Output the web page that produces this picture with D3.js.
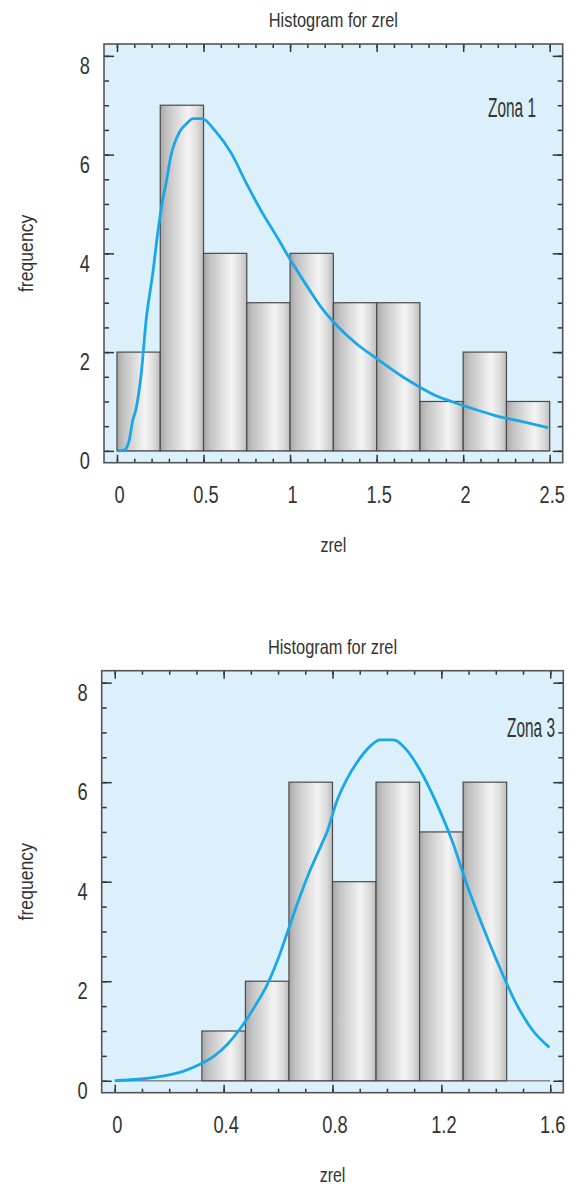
<!DOCTYPE html>
<html lang="en">
<head>
    <meta charset="UTF-8">
    <title>Histogram for zrel</title>
    <script src="https://cdn.jsdelivr.net/npm/d3@7"></script>
    <style>
        body { margin: 0; background: #fff; }
        text { font-family: "Liberation Sans", Arial, sans-serif; fill: #333; }
    </style>
</head>
<body>
<script type="application/javascript">
    // Zona 1: bins 0.25 wide
    const edges1 = [0, 0.25, 0.5, 0.75, 1, 1.25, 1.5, 1.75, 2, 2.25, 2.5];
    const counts1 = [2, 7, 4, 3, 4, 3, 3, 1, 2, 1];
    const xTicks1 = [0, 0.5, 1, 1.5, 2, 2.5];
    // density curve, [zrel, frequency]
    const curve1 = [
        [0.005, 0], [0.04, 0.01], [0.07, 0.2], [0.09, 0.6], [0.11, 0.85], [0.14, 1.56],
        [0.17, 2.7], [0.19, 3.2], [0.205, 3.55], [0.235, 4.4], [0.265, 5.1], [0.285, 5.45],
        [0.31, 5.95], [0.36, 6.45], [0.40, 6.62], [0.44, 6.73], [0.49, 6.73], [0.57, 6.47],
        [0.66, 6.03], [0.75, 5.4], [0.83, 4.88], [0.93, 4.3], [1.0, 3.88], [1.11, 3.27],
        [1.19, 2.86], [1.27, 2.54], [1.38, 2.18], [1.5, 1.87], [1.65, 1.5], [1.75, 1.29],
        [1.84, 1.12], [1.94, 0.99], [2.05, 0.86], [2.19, 0.71], [2.33, 0.6], [2.49, 0.47]
    ];

    // Zona 3: bins 0.16 wide
    const edges2 = [0, 0.16, 0.32, 0.48, 0.64, 0.80, 0.96, 1.12, 1.28, 1.44, 1.60];
    const counts2 = [0, 0, 1, 2, 6, 4, 6, 5, 6, 0];
    const xTicks2 = [0, 0.4, 0.8, 1.2, 1.6];
    const curve2 = [
        [0, 0], [0.085, 0.03], [0.147, 0.07], [0.208, 0.13], [0.256, 0.2], [0.317, 0.34],
        [0.366, 0.5], [0.415, 0.74], [0.464, 1.07], [0.513, 1.48], [0.562, 1.95], [0.598, 2.42],
        [0.641, 3.09], [0.671, 3.56], [0.708, 4.1], [0.76, 4.75], [0.78, 5.0], [0.816, 5.62],
        [0.852, 6.05], [0.889, 6.39], [0.938, 6.72], [0.974, 6.85], [1.023, 6.85], [1.072, 6.65],
        [1.121, 6.25], [1.182, 5.58], [1.243, 4.77], [1.292, 3.97], [1.353, 3.09], [1.414, 2.28],
        [1.475, 1.55], [1.536, 1.01], [1.597, 0.67]
    ];

    const yTicks = [0, 2, 4, 6, 8];
    const title = 'Histogram for zrel';

    const W = 569, H = 1187;

    let svg = d3.select('body')
        .append('svg')
        .attr('width', W)
        .attr('height', H);

    // gradient for the cylinder-like bars
    let grad = svg.append('defs').append('linearGradient')
        .attr('id', 'barGrad')
        .attr('x1', '0%').attr('x2', '100%').attr('y1', '0%').attr('y2', '0%');
    [[0, '#a8a8a8'], [0.15, '#c2c2c2'], [0.65, '#f4f4f4'], [0.85, '#dcdcdc'], [1, '#bdbdbd']]
        .forEach(s => grad.append('stop').attr('offset', s[0]).attr('stop-color', s[1]));

    // the original font is a narrow one, so squeeze text horizontally
    function label(g, str, x, y, size, sx, anchor, rot) {
        return g.append('text')
            .attr('transform', `translate(${x},${y})` + (rot ? ` rotate(${rot})` : '') + ` scale(${sx},1)`)
            .attr('text-anchor', anchor)
            .attr('font-size', size)
            .text(str);
    }

    function drawPanel(p) {
        let x = d3.scaleLinear().domain(p.xDomain).range([p.left, p.right]);
        let y = d3.scaleLinear().domain([-0.24, 8.24]).range([p.bottom, p.top]);

        let g = svg.append('g');

        // background
        g.append('rect')
            .attr('x', p.left).attr('y', p.top)
            .attr('width', p.right - p.left).attr('height', p.bottom - p.top)
            .attr('fill', '#dbf0fb');

        // base line under empty bins
        g.append('line')
            .attr('x1', x(p.edges[0])).attr('x2', x(p.edges[p.edges.length - 1]))
            .attr('y1', y(0)).attr('y2', y(0))
            .attr('stroke', '#888').attr('stroke-width', 1.5);

        let bins = p.counts.map((c, i) => ({x0: p.edges[i], x1: p.edges[i + 1], n: c}))
            .filter(d => d.n > 0);

        g.selectAll('rect.bar')
            .data(bins)
            .enter()
            .append('rect')
            .attr('class', 'bar')
            .attr('x', d => x(d.x0))
            .attr('y', d => y(d.n))
            .attr('width', d => x(d.x1) - x(d.x0))
            .attr('height', d => y(0) - y(d.n))
            .attr('fill', 'url(#barGrad)')
            .attr('stroke', '#4a4a4a')
            .attr('stroke-width', 1.2);

        // density curve
        let line = d3.line()
            .x(d => x(d[0]))
            .y(d => y(d[1]))
            .curve(d3.curveMonotoneX);
        g.append('path')
            .datum(p.curve)
            .attr('d', line)
            .attr('fill', 'none')
            .attr('stroke', '#18a8e8')
            .attr('stroke-width', 2.8)
            .attr('stroke-linejoin', 'round');

        // ticks, all pointing inwards
        const tickStyle = sel => {
            sel.select('.domain').remove();
            sel.selectAll('line').attr('stroke', '#333').attr('stroke-width', 1.5);
        };
        let xMinor = d3.range(Math.round(p.edges[p.edges.length - 1] / 0.1) + 1).map(i => i * 0.1);
        let yMinor = d3.range(17).map(i => i * 0.5);

        g.append('g').attr('transform', `translate(0,${p.bottom})`)
            .call(d3.axisBottom(x).tickValues(xMinor).tickSize(-4).tickFormat('')).call(tickStyle);
        g.append('g').attr('transform', `translate(0,${p.top})`)
            .call(d3.axisTop(x).tickValues(xMinor).tickSize(-4).tickFormat('')).call(tickStyle);
        g.append('g').attr('transform', `translate(0,${p.top})`)
            .call(d3.axisTop(x).tickValues(p.xTicks).tickSize(-8).tickFormat('')).call(tickStyle);

        let xAx = g.append('g').attr('transform', `translate(0,${p.bottom})`)
            .call(d3.axisBottom(x).tickValues(p.xTicks).tickSize(-8).tickPadding(23).tickFormat(d3.format('')))
            .call(tickStyle);
        xAx.selectAll('text')
            .attr('font-size', 24)
            .attr('x', 2 / 0.76)
            .attr('transform', 'scale(0.76,1)')
            .attr('font-family', null).attr('fill', null);

        g.append('g').attr('transform', `translate(${p.left},0)`)
            .call(d3.axisLeft(y).tickValues(yMinor).tickSize(-5).tickFormat('')).call(tickStyle);
        g.append('g').attr('transform', `translate(${p.right},0)`)
            .call(d3.axisRight(y).tickValues(yMinor).tickSize(-5).tickFormat('')).call(tickStyle);
        g.append('g').attr('transform', `translate(${p.right},0)`)
            .call(d3.axisRight(y).tickValues(yTicks).tickSize(-10).tickFormat('')).call(tickStyle);

        let yAx = g.append('g').attr('transform', `translate(${p.left},0)`)
            .call(d3.axisLeft(y).tickValues(yTicks).tickSize(-10).tickPadding(14))
            .call(tickStyle);
        yAx.selectAll('text')
            .attr('font-size', 24).attr('dy', '0.74em')
            .attr('x', -14 / 0.76)
            .attr('transform', 'scale(0.76,1)')
            .attr('font-family', null).attr('fill', null);

        // frame
        g.append('rect')
            .attr('x', p.left).attr('y', p.top)
            .attr('width', p.right - p.left).attr('height', p.bottom - p.top)
            .attr('fill', 'none')
            .attr('stroke', '#555')
            .attr('stroke-width', 1.6);

        let cx = (p.left + p.right) / 2;
        label(g, title, cx, p.top - 17, 20, 0.82, 'middle');
        label(g, 'zrel', cx, p.bottom + 89, 21, 0.76, 'middle');
        label(g, 'frequency', 33, (p.top + p.bottom) / 2, 21, 0.84, 'middle', -90);
        label(g, p.zona, p.zonaX, p.top + p.zonaDy, 28, 0.55, 'end');
    }

    drawPanel({
        left: 104, right: 562.7, top: 44, bottom: 462.7,
        xDomain: [-0.075, 2.575],
        edges: edges1, counts: counts1, curve: curve1, xTicks: xTicks1,
        zona: 'Zona 1', zonaX: 536, zonaDy: 73
    });

    drawPanel({
        left: 101.7, right: 563.3, top: 670.7, bottom: 1092.7,
        xDomain: [-0.048, 1.648],
        edges: edges2, counts: counts2, curve: curve2, xTicks: xTicks2,
        zona: 'Zona 3', zonaX: 555, zonaDy: 66
    });
</script>
</body>
</html>
